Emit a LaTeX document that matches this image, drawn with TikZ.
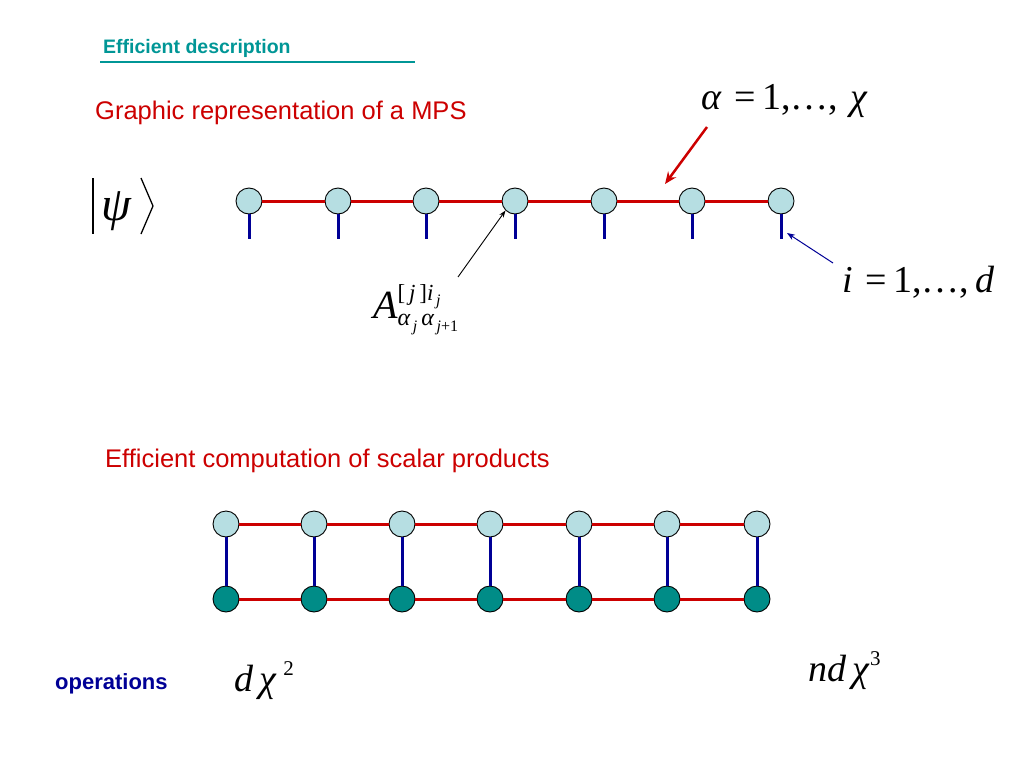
\documentclass[tikz,border=0pt]{standalone}
\usepackage{fontspec}
\setmainfont{Liberation Serif}
\newfontfamily\arial{Liberation Sans}
\usetikzlibrary{arrows.meta}
\definecolor{tealT}{RGB}{0,150,150}
\definecolor{redT}{RGB}{204,0,0}
\definecolor{navyT}{RGB}{0,0,150}
\definecolor{lightc}{RGB}{182,222,226}
\definecolor{darkc}{RGB}{0,140,135}
\begin{document}
\begin{tikzpicture}[x=1pt,y=-1pt,
  site/.style={circle, draw=black, line width=0.9pt, fill=lightc, minimum size=26pt, inner sep=0pt},
  dsite/.style={site, fill=darkc},
  bond/.style={draw=redT, line width=3pt},
  leg/.style={draw=navyT, line width=3pt},
  head/.style={anchor=base west, inner sep=0pt, text=redT, font=\arial\fontsize{25.5}{28}\selectfont},
  mth/.style={anchor=base west, inner sep=0pt, font=\fontsize{38}{42}\selectfont}]
\useasboundingbox (0,0) rectangle (1024,768);

% title
\node[anchor=base west, inner sep=0pt, text=tealT, font=\arial\bfseries\fontsize{19.5}{22}\selectfont] (title) at (103,54) {Efficient description};
\coordinate (ul1) at (100,62);
\coordinate (ul2) at (415,62);
\draw[tealT, line width=2pt] (ul1) -- (ul2);

\node[head] (h1) at (95,119) {Graphic representation of a MPS};
\node[head] (h2) at (105,467) {Efficient computation of scalar products};

% ket
\node[anchor=base west, inner sep=0pt, font=\fontsize{48}{50}\selectfont\itshape] (psi) at (101,220) {ψ};
\coordinate (kb1) at (93,178);
\coordinate (kb2) at (93,234);
\coordinate (ka1) at (141,178);
\coordinate (ka2) at (153,206);
\coordinate (ka3) at (141,234);
\draw[black, line width=2pt] (kb1) -- (kb2);
\draw[black, line width=1.3pt] (ka1) -- (ka2) -- (ka3);

% top chain
\foreach \i/\x in {1/249,2/338,3/426,4/515,5/604,6/692,7/781}{
  \coordinate (s\i) at (\x,239);
}
\foreach \i/\x in {1/249,2/338,3/426,4/515,5/604,6/692,7/781}{
  \node[site] (t\i) at (\x,201) {};
}
\foreach \i/\j in {1/2,2/3,3/4,4/5,5/6,6/7}{
  \draw[bond] (t\i) -- (t\j);
}
\foreach \i in {1,...,7}{
  \draw[leg] (t\i.south) -- (s\i);
}

% labels top
\node[mth] (alab) at (701,109) {\textit{α}\,\,=\,1,…,\,\,\textit{χ}};
\node[mth] (ilab) at (842,292) {\textit{i}\,\,=\,1,…,\,\textit{d}};
\node[anchor=base west, inner sep=0pt] (Alab) at (373,318) {\fontsize{40}{42}\selectfont\itshape A\rlap{\raisebox{18pt}{\fontsize{23}{24}\selectfont\upshape[\,\textit{j}\,]\textit{i}\raisebox{-5pt}{\fontsize{16}{18}\selectfont\,\textit{j}}}}\raisebox{-7pt}{\fontsize{24}{26}\selectfont α\raisebox{-6pt}{\fontsize{16}{18}\selectfont\,\textit{j}}\,α\raisebox{-6pt}{\fontsize{16}{18}\selectfont\,\textit{j}\upshape+1}}};

\coordinate (ra1) at (707,127);
\coordinate (ra2) at (665,184);
\draw[redT, line width=2.5pt, -{Stealth[length=12pt,width=10pt]}] (ra1) -- (ra2);
\coordinate (ba1) at (458,277);
\draw[black, line width=0.9pt, -{Stealth[length=7pt,width=5pt]}] (ba1) -- (t4.south west);
\coordinate (na1) at (833,263);
\coordinate (na2) at (787,233);
\draw[navyT, line width=1pt, -{Stealth[length=8pt,width=6pt]}] (na1) -- (na2);

% bottom ladder
\foreach \i/\x in {1/226,2/314,3/402,4/490,5/579,6/667,7/757}{
  \node[site] (u\i) at (\x,524) {};
  \node[dsite] (l\i) at (\x,599) {};
}
\foreach \i/\j in {1/2,2/3,3/4,4/5,5/6,6/7}{
  \draw[bond] (u\i) -- (u\j);
  \draw[bond] (l\i) -- (l\j);
}
\foreach \i in {1,...,7}{
  \draw[leg] (u\i) -- (l\i);
}

% bottom labels
\node[anchor=base west, inner sep=0pt, text=navyT, font=\arial\bfseries\fontsize{22}{24}\selectfont] (ops) at (55,689) {operations};
\node[anchor=base west, inner sep=0pt, font=\fontsize{38}{40}\selectfont] (c1) at (234,691) {\textit{d\,χ}\,\raisebox{16pt}{\fontsize{21}{22}\selectfont 2}};
\node[anchor=base west, inner sep=0pt, font=\fontsize{38}{40}\selectfont] (c2) at (808,681) {\textit{nd\,χ}\raisebox{16pt}{\fontsize{21}{22}\selectfont 3}};
\end{tikzpicture}
\end{document}
